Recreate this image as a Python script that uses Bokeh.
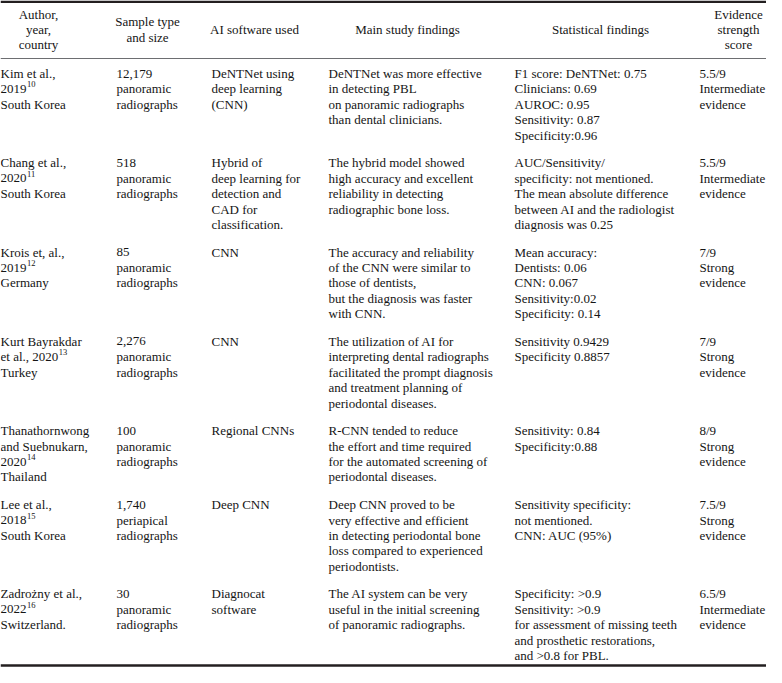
from bokeh.plotting import figure
from bokeh.models import Range1d, ColumnDataSource
from bokeh.embed import file_html
from bokeh.resources import INLINE
from bokeh.core.properties import value

# ---------------- data ----------------
headers = [["Author,", "year,", "country"], ["Sample type", "and size"], ["AI software used"],
           ["Main study findings"], ["Statistical findings"], ["Evidence", "strength", "score"]]

authors = ["Kim et al.,", "Chang et al.,", "Krois et, al.,", "Kurt Bayrakdar\net al.,",
           "Thanathornwong\nand Suebnukarn,", "Lee et al.,", "Zadrożny et al.,"]
year_inline = [False, False, False, True, False, False, False]
years = ["2019", "2020", "2019", "2020", "2020", "2018", "2022"]
refs = ["10", "11", "12", "13", "14", "15", "16"]
countries = ["South Korea", "South Korea", "Germany", "Turkey", "Thailand", "South Korea", "Switzerland."]

sample_sizes = ["12,179", "518", "85", "2,276", "100", "1,740", "30"]
sample_types = ["panoramic\nradiographs", "panoramic\nradiographs", "panoramic\nradiographs",
                "panoramic\nradiographs", "panoramic\nradiographs", "periapical\nradiographs",
                "panoramic\nradiographs"]

ai_software = ["DeNTNet using\ndeep learning\n(CNN)",
               "Hybrid of\ndeep learning for\ndetection and\nCAD for\nclassification.",
               "CNN", "CNN", "Regional CNNs", "Deep CNN", "Diagnocat\nsoftware"]

findings = [
    "DeNTNet was more effective\nin detecting PBL\non panoramic radiographs\nthan dental clinicians.",
    "The hybrid model showed\nhigh accuracy and excellent\nreliability in detecting\nradiographic bone loss.",
    "The accuracy and reliability\nof the CNN were similar to\nthose of dentists,\nbut the diagnosis was faster\nwith CNN.",
    "The utilization of AI for\ninterpreting dental radiographs\nfacilitated the prompt diagnosis\nand treatment planning of\nperiodontal diseases.",
    "R-CNN tended to reduce\nthe effort and time required\nfor the automated screening of\nperiodontal diseases.",
    "Deep CNN proved to be\nvery effective and efficient\nin detecting periodontal bone\nloss compared to experienced\nperiodontists.",
    "The AI system can be very\nuseful in the initial screening\nof panoramic radiographs.",
]

stats = [
    "F1 score: DeNTNet: 0.75\nClinicians: 0.69\nAUROC: 0.95\nSensitivity: 0.87\nSpecificity:0.96",
    "AUC/Sensitivity/\nspecificity: not mentioned.\nThe mean absolute difference\nbetween AI and the radiologist\ndiagnosis was 0.25",
    "Mean accuracy:\nDentists: 0.06\nCNN: 0.067\nSensitivity:0.02\nSpecificity: 0.14",
    "Sensitivity 0.9429\nSpecificity 0.8857",
    "Sensitivity: 0.84\nSpecificity:0.88",
    "Sensitivity specificity:\nnot mentioned.\nCNN: AUC (95%)",
    "Specificity: >0.9\nSensitivity: >0.9\nfor assessment of missing teeth\nand prosthetic restorations,\nand >0.8 for PBL.",
]

scores = ["5.5/9", "5.5/9", "7/9", "7/9", "8/9", "7.5/9", "6.5/9"]
levels = ["Intermediate\nevidence", "Intermediate\nevidence", "Strong\nevidence", "Strong\nevidence",
          "Strong\nevidence", "Strong\nevidence", "Intermediate\nevidence"]

# ---------------- layout ----------------
W, H = 766, 667
FS = 13.0
LH = 15.4
GAP = 12.3
col_left = [0, 116, 211, 328, 514, 699]
col_center = [38, 147, 254, 407, 600, 738]
TOP_RULE, HEAD_RULE, BOT_RULE = 1.2, 58, 665
HEAD_MID = 29
HEAD_LH = 15.4
FIRST = 73
INK = "#151515"

CW = {'0': .5, '1': .5, '2': .5, '3': .5, '4': .5, '5': .5, '6': .5, '7': .5, '8': .5, '9': .5,
      'e': .444, 't': .278, 'a': .444, 'l': .278, '.': .25, ',': .25, ' ': .25}


def text_w(s):
    return sum(CW.get(c, .5) for c in s) * FS


bx, by, bt = [], [], []
sx, sy, st = [], [], []
hx, hy, ht = [], [], []

for ci, lines in enumerate(headers):
    n = len(lines)
    for k, s in enumerate(lines):
        hx.append(col_center[ci])
        hy.append(HEAD_MID + (k - (n - 1) / 2) * HEAD_LH)
        ht.append(s)

y0 = FIRST
for i in range(len(authors)):
    name_lines = authors[i].split("\n")
    if year_inline[i]:
        a_lines = name_lines[:-1] + [name_lines[-1] + " " + years[i]]
    else:
        a_lines = name_lines + [years[i]]
    year_idx = len(a_lines) - 1
    a_lines = a_lines + [countries[i]]
    cells = [a_lines,
             [sample_sizes[i]] + sample_types[i].split("\n"),
             ai_software[i].split("\n"),
             findings[i].split("\n"),
             stats[i].split("\n"),
             [scores[i]] + levels[i].split("\n")]
    for ci, lines in enumerate(cells):
        for k, s in enumerate(lines):
            bx.append(col_left[ci])
            by.append(y0 + k * LH)
            bt.append(s)
    # superscript reference number
    sx.append(col_left[0] + text_w(a_lines[year_idx]) + 0.5)
    sy.append(y0 + year_idx * LH - 4.5)
    st.append(refs[i])
    nlines = max(len(c) for c in cells)
    y0 += nlines * LH + GAP

p = figure(width=W, height=H, x_range=Range1d(0, W), y_range=Range1d(H, 0),
           output_backend="svg", toolbar_location=None, x_axis_type=None, y_axis_type=None,
           min_border=0)
p.outline_line_color = None
p.background_fill_color = "white"
p.border_fill_color = "white"

p.segment(x0=[0, 0, 0], x1=[W, W, W], y0=[TOP_RULE, HEAD_RULE, BOT_RULE],
          y1=[TOP_RULE, HEAD_RULE, BOT_RULE], line_width=[2.4, 1, 2.4],
          line_color=["#231f20", "#6d6e71", "#231f20"])

font = value("Liberation Serif")
p.text(x="x", y="y", text="t", source=ColumnDataSource(dict(x=hx, y=hy, t=ht)),
       text_font=font, text_font_size=value(f"{FS}px"), text_align="center",
       text_baseline="middle", text_color=INK)
p.text(x="x", y="y", text="t", source=ColumnDataSource(dict(x=bx, y=by, t=bt)),
       text_font=font, text_font_size=value(f"{FS}px"), text_align="left",
       text_baseline="middle", text_color=INK)
p.text(x="x", y="y", text="t", source=ColumnDataSource(dict(x=sx, y=sy, t=st)),
       text_font=font, text_font_size=value("8.5px"), text_align="left",
       text_baseline="middle", text_color=INK)

open("out.html", "w").write(file_html(p, INLINE))
